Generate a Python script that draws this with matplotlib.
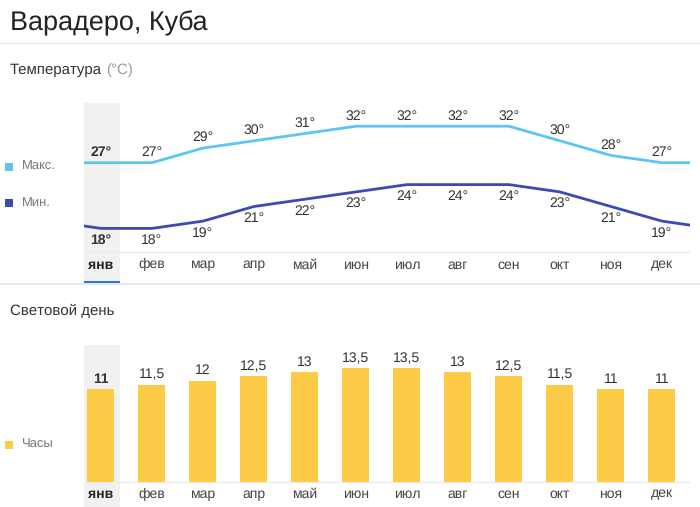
import matplotlib
matplotlib.use("Agg")
import matplotlib.pyplot as plt
from matplotlib.lines import Line2D
from matplotlib.patches import Rectangle

plt.rcParams['font.family'] = ['Liberation Sans', 'DejaVu Sans']
plt.rcParams['text.hinting'] = 'no_hinting'
plt.rcParams['text.hinting_factor'] = 1

months = ["янв", "фев", "мар", "апр", "май", "июн",
          "июл", "авг", "сен", "окт", "ноя", "дек"]
t_max = [27, 27, 29, 30, 31, 32, 32, 32, 32, 30, 28, 27]
t_min = [18, 18, 19, 21, 22, 23, 24, 24, 24, 23, 21, 19]
daylight = [11, 11.5, 12, 12.5, 13, 13.5, 13.5, 13, 12.5, 11.5, 11, 11]

W, H = 700, 507
C_MAX = "#5bc6f2"
C_MIN = "#3c4bb3"
C_BAR = "#fdcc47"
C_TXT = "#333333"
C_GREY = "#777777"
C_SEL = "#f1f1f1"


def fx(x):
    return x / W


def fy(y):
    return 1 - y / H


fig = plt.figure(figsize=(7, 5.07), dpi=100)

# header
fig.text(fx(10), fy(23), "Варадеро, Куба", fontsize=19.5, color="#222222", va="center")
fig.add_artist(Line2D([0, 1], [fy(43), fy(43)], color="#ececec", lw=1))
t1 = fig.text(fx(10), fy(70), "Температура", fontsize=11, color=C_TXT, va="center")
fig.add_artist(plt.Annotation("(°C)", xy=(1, 0.5), xycoords=t1, xytext=(3, 0),
                              textcoords="offset points", ha="left", va="center",
                              fontsize=11, color="#999999"))
fig.text(fx(10), fy(311), "Световой день", fontsize=11, color=C_TXT, va="center")
fig.add_artist(Line2D([0, 1], [fy(283.5), fy(283.5)], color="#e3e3e3", lw=1.2))


def legend_item(y, color, label):
    fig.add_artist(Rectangle((fx(5), fy(y + 4)), 8 / W, 8 / H, color=color, lw=0))
    fig.text(fx(22), fy(y), label, fontsize=9, color=C_GREY, va="center")


legend_item(167, C_MAX, "Макс.")
legend_item(203, C_MIN, "Мин.")
legend_item(445, C_BAR, "Часы")

x = list(range(12))
xl = (-0.333, 11.55)

# temperature panel
ax = fig.add_axes([fx(84), fy(283), 606 / W, 180 / H])
ax.set_xlim(*xl)
ax.set_ylim(10.52, 35.18)
ax.axis("off")
ax.axvspan(-0.333, 0.373, color=C_SEL, lw=0, zorder=0)
ax.axhline(14.77, color="#ececec", lw=1, zorder=1)
xe = [-1] + x + [12]
ax.plot(xe, [t_max[-1]] + t_max + [t_max[0]], color=C_MAX, lw=2, zorder=3)
ax.plot(xe, [t_min[-1]] + t_min + [t_min[0]], color=C_MIN, lw=2, zorder=3)
for i in x:
    w = "bold" if i == 0 else "normal"
    ax.annotate(f"{t_max[i]}°", (i, t_max[i]), xytext=(0, 7.5), textcoords="offset points",
                ha="center", va="center", fontsize=10, color=C_TXT, fontweight=w)
    ax.annotate(f"{t_min[i]}°", (i, t_min[i]), xytext=(0, -8.5), textcoords="offset points",
                ha="center", va="center", fontsize=10, color=C_TXT, fontweight=w)
    ax.text(i, 12.99, months[i], ha="center", va="center", fontsize=10,
            color="#222222" if i == 0 else "#444444", fontweight=w)
ax.add_patch(Rectangle((-0.333, 10.52), 0.706, 0.33, color="#2d7ad6", lw=0, zorder=4,
                       clip_on=False))

# daylight panel
bx = fig.add_axes([fx(84), 0, 606 / W, 162 / H])
bx.set_xlim(*xl)
bx.set_ylim(-2.96, 16.2)
bx.axis("off")
bx.axvspan(-0.333, 0.373, color=C_SEL, lw=0, zorder=0)
bx.axhline(0, color="#ececec", lw=1, zorder=1)
bx.bar(x, daylight, width=0.53, color=C_BAR, zorder=2)
for i in x:
    w = "bold" if i == 0 else "normal"
    lab = f"{daylight[i]:g}".replace(".", ",")
    bx.annotate(lab, (i, daylight[i]), xytext=(0, 7), textcoords="offset points",
                ha="center", va="center", fontsize=10, color=C_TXT, fontweight=w)
    bx.text(i, -1.42, months[i], ha="center", va="center", fontsize=10,
            color="#222222" if i == 0 else "#444444", fontweight=w)

fig.savefig("out.png", dpi=100)
